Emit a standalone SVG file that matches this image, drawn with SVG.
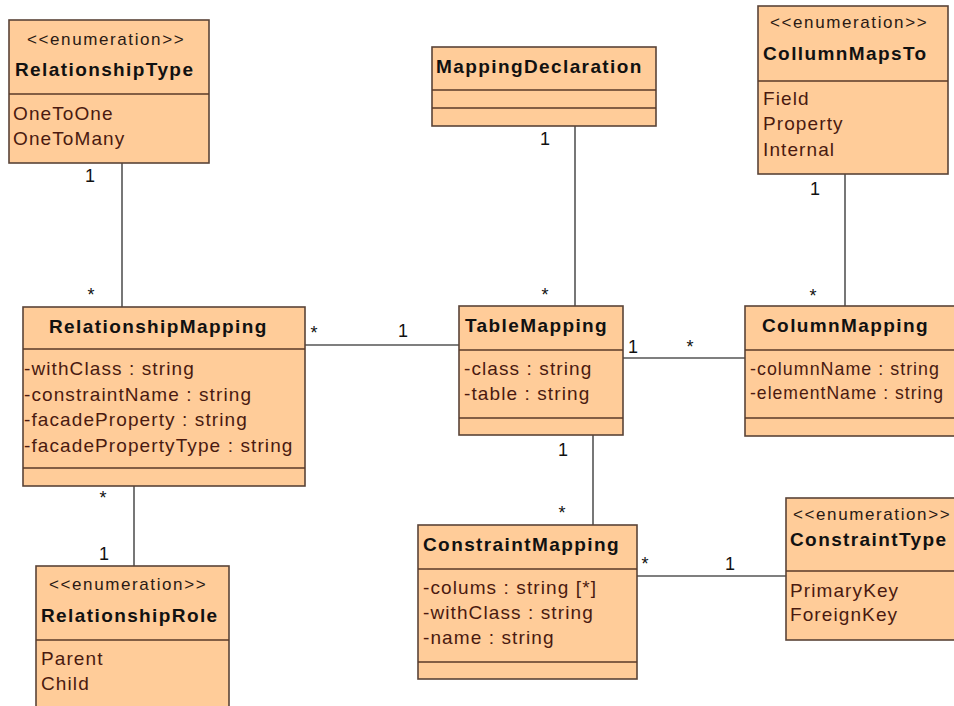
<svg xmlns="http://www.w3.org/2000/svg" width="954" height="706" viewBox="0 0 954 706">
  <style>
    .box { fill: #ffcc99; stroke: #5a4438; stroke-width: 1.6; }
    .sep { stroke: #5a3a28; stroke-width: 1.6; }
    .link { stroke: #555; stroke-width: 1.6; fill: none; }
    text { font-family: "Liberation Sans", Arial, sans-serif; }
    .name { font-size: 19px; font-weight: bold; fill: #111; letter-spacing: 1.4px; }
    .stereo { font-size: 17px; fill: #2a1a14; letter-spacing: 1.6px; }
    .attr { font-size: 19px; fill: #4a1a10; letter-spacing: 1.1px; }
    .mult { font-size: 18px; fill: #111; }
  </style>

  <!-- associations -->
  <g id="connectors">
    <line class="link" x1="122" y1="163" x2="122" y2="307"/>
    <line class="link" x1="575" y1="126" x2="575" y2="306"/>
    <line class="link" x1="845" y1="174" x2="845" y2="306"/>
    <line class="link" x1="305" y1="345" x2="459" y2="345"/>
    <line class="link" x1="623" y1="358" x2="745" y2="358"/>
    <line class="link" x1="134" y1="486" x2="134" y2="566"/>
    <line class="link" x1="593" y1="435" x2="593" y2="525"/>
    <line class="link" x1="637" y1="576" x2="786" y2="576"/>
    <text class="mult" x="90" y="182" text-anchor="middle">1</text>
    <text class="mult" x="91" y="301" text-anchor="middle">*</text>
    <text class="mult" x="545" y="145" text-anchor="middle">1</text>
    <text class="mult" x="545" y="301" text-anchor="middle">*</text>
    <text class="mult" x="815" y="195" text-anchor="middle">1</text>
    <text class="mult" x="813" y="302" text-anchor="middle">*</text>
    <text class="mult" x="314" y="339" text-anchor="middle">*</text>
    <text class="mult" x="403" y="337" text-anchor="middle">1</text>
    <text class="mult" x="633" y="353" text-anchor="middle">1</text>
    <text class="mult" x="690" y="353" text-anchor="middle">*</text>
    <text class="mult" x="563" y="456" text-anchor="middle">1</text>
    <text class="mult" x="562" y="519" text-anchor="middle">*</text>
    <text class="mult" x="103" y="504" text-anchor="middle">*</text>
    <text class="mult" x="104" y="560" text-anchor="middle">1</text>
    <text class="mult" x="645" y="570" text-anchor="middle">*</text>
    <text class="mult" x="730" y="570" text-anchor="middle">1</text>
  </g>

  <g id="RelationshipType">
    <rect class="box" x="9" y="20" width="200" height="143"/>
    <line class="sep" x1="9" y1="94" x2="209" y2="94"/>
    <text class="stereo" x="27" y="45">&lt;&lt;enumeration&gt;&gt;</text>
    <text class="name" x="15" y="76">RelationshipType</text>
    <text class="attr" x="13" y="120">OneToOne</text>
    <text class="attr" x="13" y="145">OneToMany</text>
  </g>

  <g id="MappingDeclaration">
    <rect class="box" x="432" y="47" width="224" height="79"/>
    <line class="sep" x1="432" y1="90" x2="656" y2="90"/>
    <line class="sep" x1="432" y1="108" x2="656" y2="108"/>
    <text class="name" x="436" y="73">MappingDeclaration</text>
  </g>

  <g id="CollumnMapsTo">
    <rect class="box" x="758" y="6" width="190" height="168"/>
    <line class="sep" x1="758" y1="81" x2="948" y2="81"/>
    <text class="stereo" x="770" y="28">&lt;&lt;enumeration&gt;&gt;</text>
    <text class="name" x="763" y="60">CollumnMapsTo</text>
    <text class="attr" x="763" y="105">Field</text>
    <text class="attr" x="763" y="130">Property</text>
    <text class="attr" x="763" y="156">Internal</text>
  </g>

  <g id="RelationshipMapping">
    <rect class="box" x="23" y="307" width="282" height="179"/>
    <line class="sep" x1="23" y1="349" x2="305" y2="349"/>
    <line class="sep" x1="23" y1="468" x2="305" y2="468"/>
    <text class="name" x="49" y="333">RelationshipMapping</text>
    <text class="attr" x="24" y="375">-withClass : string</text>
    <text class="attr" x="24" y="401">-constraintName : string</text>
    <text class="attr" x="24" y="426">-facadeProperty : string</text>
    <text class="attr" x="24" y="452">-facadePropertyType : string</text>
  </g>

  <g id="TableMapping">
    <rect class="box" x="459" y="306" width="164" height="129"/>
    <line class="sep" x1="459" y1="350" x2="623" y2="350"/>
    <line class="sep" x1="459" y1="418" x2="623" y2="418"/>
    <text class="name" x="465" y="332">TableMapping</text>
    <text class="attr" x="464" y="375">-class : string</text>
    <text class="attr" x="464" y="400">-table : string</text>
  </g>

  <g id="ColumnMapping">
    <rect class="box" x="745" y="306" width="215" height="130"/>
    <line class="sep" x1="745" y1="350" x2="960" y2="350"/>
    <line class="sep" x1="745" y1="418" x2="960" y2="418"/>
    <text class="name" x="762" y="332">ColumnMapping</text>
    <text class="attr" x="750" y="375" textLength="190" lengthAdjust="spacingAndGlyphs">-columnName : string</text>
    <text class="attr" x="750" y="399" textLength="194" lengthAdjust="spacingAndGlyphs">-elementName : string</text>
  </g>

  <g id="RelationshipRole">
    <rect class="box" x="36" y="566" width="193" height="150"/>
    <line class="sep" x1="36" y1="640" x2="229" y2="640"/>
    <text class="stereo" x="49" y="590">&lt;&lt;enumeration&gt;&gt;</text>
    <text class="name" x="41" y="622">RelationshipRole</text>
    <text class="attr" x="41" y="665">Parent</text>
    <text class="attr" x="41" y="690">Child</text>
  </g>

  <g id="ConstraintMapping">
    <rect class="box" x="418" y="525" width="219" height="154"/>
    <line class="sep" x1="418" y1="569" x2="637" y2="569"/>
    <line class="sep" x1="418" y1="662" x2="637" y2="662"/>
    <text class="name" x="423" y="551">ConstraintMapping</text>
    <text class="attr" x="423" y="594">-colums : string [*]</text>
    <text class="attr" x="423" y="619">-withClass : string</text>
    <text class="attr" x="423" y="644">-name : string</text>
  </g>

  <g id="ConstraintType">
    <rect class="box" x="786" y="498" width="180" height="142"/>
    <line class="sep" x1="786" y1="571" x2="966" y2="571"/>
    <text class="stereo" x="793" y="520">&lt;&lt;enumeration&gt;&gt;</text>
    <text class="name" x="790" y="546">ConstraintType</text>
    <text class="attr" x="790" y="597">PrimaryKey</text>
    <text class="attr" x="790" y="621">ForeignKey</text>
  </g>
</svg>
